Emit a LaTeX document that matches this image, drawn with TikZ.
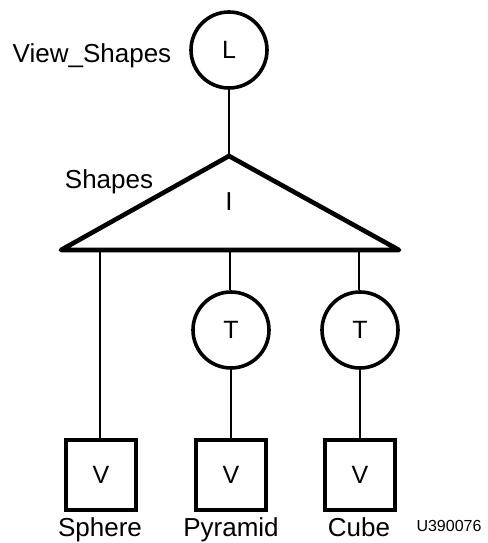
\documentclass[tikz,border=0pt]{standalone}
\usepackage{fontspec}
\setmainfont{Liberation Sans}
\begin{document}
\begin{tikzpicture}[x=1pt,y=-1pt,
  txt/.style={font=\fontsize{26}{30}\selectfont, inner sep=0pt},
  circ/.style={circle, draw, line width=3.6pt, minimum size=76pt, inner sep=0pt, font=\fontsize{25}{30}\selectfont},
  sq/.style={rectangle, draw, line width=4pt, minimum size=70pt, inner sep=0pt, font=\fontsize{25}{30}\selectfont},
  conn/.style={line width=1.5pt},
  tri/.style={line width=4.6pt, line join=round}]
\useasboundingbox (0,0) rectangle (487,543);
% top circle
\node[circ] (L) at (229,50) {L};
\node[txt, anchor=base] (vs) at (92,63) {View\_Shapes};
% triangle
\coordinate (apex) at (229,156);
\coordinate (bl) at (61,250);
\coordinate (br) at (399,250);
\draw[tri] (apex) -- (bl) -- (br) -- cycle;
\node[txt] (I) at (229,202) {I};
\node[txt, anchor=base] (sh) at (109,188) {Shapes};
\draw[conn] (L.south) -- (apex);
% base points
\coordinate (b1) at (100,250);
\coordinate (b2) at (230,250);
\coordinate (b3) at (359,250);
% T circles
\node[circ] (T1) at (231,330) {T};
\node[circ] (T2) at (360,330) {T};
% boxes
\node[sq] (V1) at (101,475) {V};
\node[sq] (V2) at (231,475) {V};
\node[sq] (V3) at (360,475) {V};
\draw[conn] (b1) -- (V1.north -| b1);
\draw[conn] (b2) -- (T1.north -| b2);
\draw[conn] (b3) -- (T2.north -| b3);
\draw[conn] (T1.south) -- (V2.north);
\draw[conn] (T2.south) -- (V3.north);
% labels
\node[txt, anchor=base] (s1) at (100,536) {Sphere};
\node[txt, anchor=base] (s2) at (231,536) {Pyramid};
\node[txt, anchor=base] (s3) at (359,536) {Cube};
\node[font=\fontsize{16}{18}\selectfont, inner sep=0pt, anchor=base] (u) at (449,531) {U390076};
\end{tikzpicture}
\end{document}
